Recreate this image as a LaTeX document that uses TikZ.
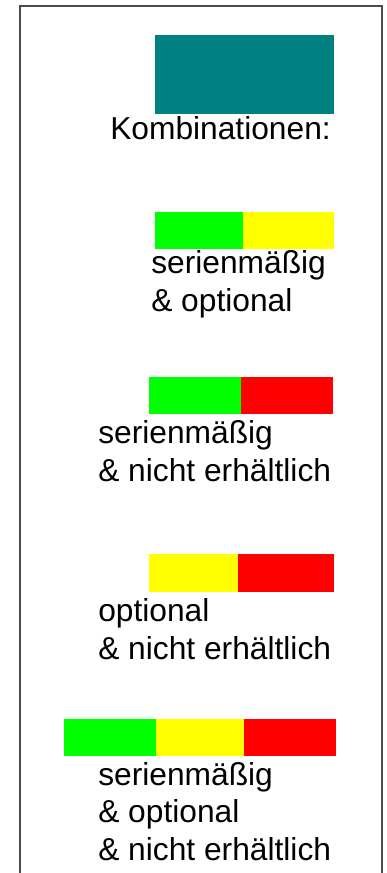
\documentclass[tikz,border=0pt]{standalone}
\usepackage{fontspec}
\setmainfont{Liberation Sans}
\definecolor{kteal}{HTML}{008080}
\definecolor{kgreen}{HTML}{00FF00}
\definecolor{kyellow}{HTML}{FFFF00}
\definecolor{kred}{HTML}{FF0000}

\begin{document}
\begin{tikzpicture}[x=0.75pt,y=-0.75pt,
  label/.style={anchor=base west,inner sep=0pt,align=left,
    font=\fontsize{23.8pt}{28.1pt}\selectfont},
  frame/.style={draw=black!70,line width=1.1pt}]
\useasboundingbox (0,0) rectangle (386,873);
\clip (0,0) rectangle (386,873);
\draw[frame] (20,890) -- (20,6) -- (382,6) -- (382,890);
% title
\fill[kteal] (155,35) rectangle (334,114);
\node[label] (title) at (110,140) {Kombinationen:};
% serienmaessig & optional
\fill[kgreen] (155,212) rectangle (243,249);
\fill[kyellow] (243,212) rectangle (334,249);
\node[label] (so) at (151,311) {serienmäßig\\\& optional};
% serienmaessig & nicht erhaeltlich
\fill[kgreen] (149,377) rectangle (241,414);
\fill[kred] (241,377) rectangle (333,414);
\node[label] (sn) at (98,481) {serienmäßig\\\& nicht erhältlich};
% optional & nicht erhaeltlich
\fill[kyellow] (149,554) rectangle (238,592);
\fill[kred] (238,554) rectangle (334,592);
\node[label] (on) at (98,659) {optional\\\& nicht erhältlich};
% alle drei
\fill[kgreen] (64,719) rectangle (156,756);
\fill[kyellow] (156,719) rectangle (244,756);
\fill[kred] (244,719) rectangle (336,756);
\node[label] (son) at (98,860) {serienmäßig\\\& optional\\\& nicht erhältlich};
\end{tikzpicture}
\end{document}
